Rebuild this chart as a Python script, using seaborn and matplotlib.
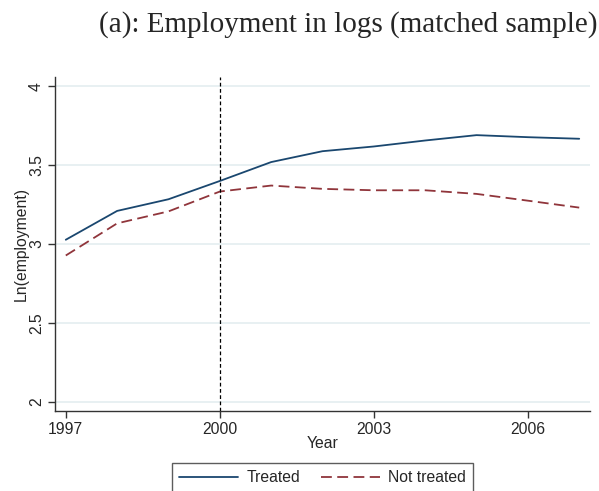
import numpy as np
import pandas as pd
import matplotlib
matplotlib.use("Agg")
import matplotlib.pyplot as plt
from matplotlib.lines import Line2D
import seaborn as sns

years = [1997, 1998, 1999, 2000, 2001, 2002, 2003, 2004, 2005, 2006, 2007]
treated = [3.027, 3.21, 3.284, 3.40, 3.52, 3.589, 3.619, 3.657, 3.691, 3.678, 3.668]
not_treated = [2.927, 3.131, 3.207, 3.333, 3.371, 3.35, 3.341, 3.341, 3.318, 3.275, 3.231]
groups = ["Treated", "Not treated"]
x_ticks = [1997, 2000, 2003, 2006]
y_ticks = [2, 2.5, 3, 3.5, 4]
y_tick_labels = ["2", "2.5", "3", "3.5", "4"]
treatment_year = 2000

df = pd.DataFrame({
    "Year": years * 2,
    "value": treated + not_treated,
    "group": [groups[0]] * len(years) + [groups[1]] * len(years),
})

sns.set_theme(style="white")
plt.rcParams["font.family"] = ["Liberation Sans", "DejaVu Sans"]

fs = 11.3
fig = plt.figure(figsize=(5.99, 4.91), dpi=100)
ax = fig.add_axes([55 / 599, 1 - 411 / 491, (590 - 55) / 599, (411 - 77) / 491])

palette = {"Treated": "#1a476f", "Not treated": "#90353b"}
dash_pattern = (6, 3)
dashes = {"Treated": "", "Not treated": dash_pattern}
sns.lineplot(data=df, x="Year", y="value", hue="group", style="group",
             palette=palette, dashes=dashes, linewidth=1.3, ax=ax, legend=False)

ax.axvline(treatment_year, color="black", linestyle=(0, (3, 2)), linewidth=0.9)

ax.set_xlim(1996.79, 2007.21)
ax.set_ylim(1.94, 4.06)
ax.set_xticks(x_ticks)
ax.set_xticklabels([str(t) for t in x_ticks], fontsize=fs)
ax.set_yticks(y_ticks)
ax.set_yticklabels(y_tick_labels, fontsize=fs, rotation=90, va="center")
ax.grid(axis="y", color="#e4eef0", linewidth=1.2)
ax.grid(axis="x", visible=False)

for s in ["top", "right"]:
    ax.spines[s].set_visible(False)
for s in ["left", "bottom"]:
    ax.spines[s].set_color("#333333")
    ax.spines[s].set_linewidth(1.0)
ax.tick_params(axis="both", which="both", direction="out", length=5, width=1.0,
               color="#333333", left=True, bottom=True, pad=3)

ax.set_xlabel("Year", fontsize=fs, labelpad=-1)
ax.set_ylabel("Ln(employment)", fontsize=fs, labelpad=0)

fig.text(348 / 599, 1 - 25 / 491, "(a): Employment in logs (matched sample)",
         ha="center", va="center", fontsize=21,
         family=["Liberation Serif", "DejaVu Serif"])

handles = [
    Line2D([], [], color=palette["Treated"], linewidth=1.3),
    Line2D([], [], color=palette["Not treated"], linewidth=1.3,
           linestyle=(0, dash_pattern)),
]
leg = fig.legend(handles, groups, loc="upper left",
                 bbox_to_anchor=(172 / 599, 1 - 463 / 491), ncol=2,
                 fontsize=fs, frameon=True, fancybox=False, handlelength=3.75,
                 columnspacing=1.3, borderpad=0.45, borderaxespad=0,
                 handletextpad=0.55)
leg.get_frame().set_edgecolor("#333333")
leg.get_frame().set_linewidth(1.0)

fig.savefig("out.png", dpi=100)
